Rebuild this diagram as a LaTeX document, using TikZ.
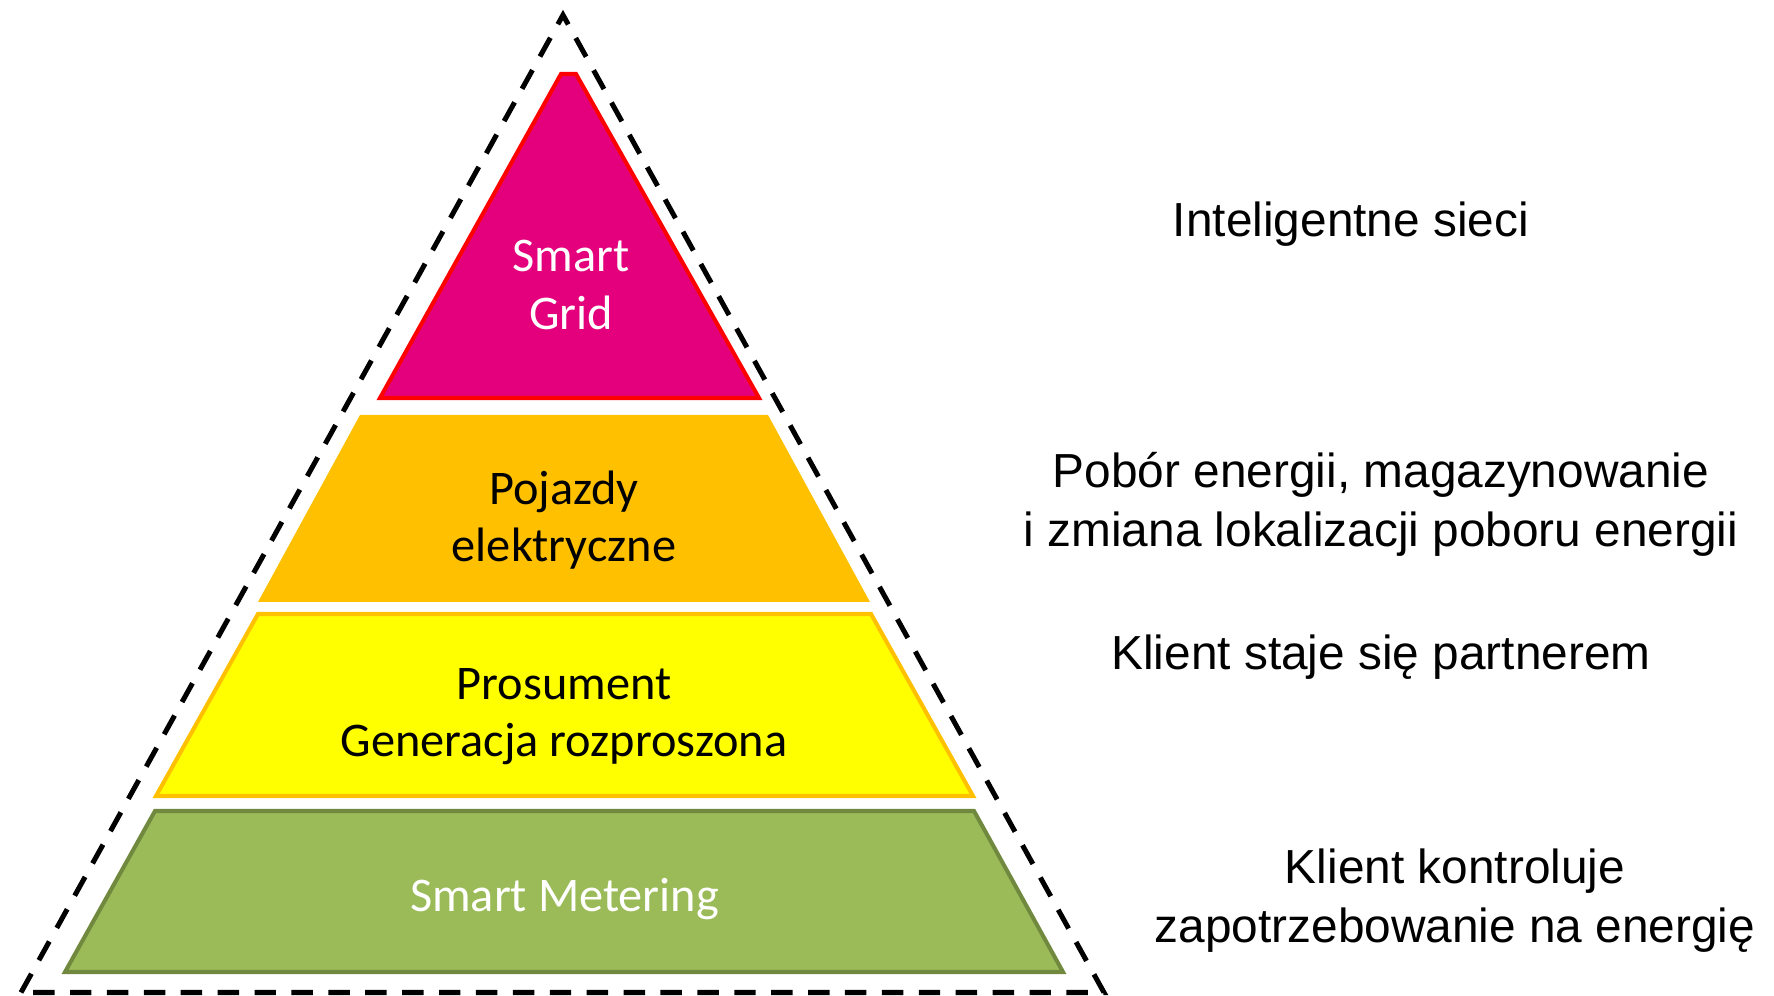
\documentclass[tikz,border=0pt]{standalone}
\usepackage{fontspec}
\setmainfont{Liberation Sans}
\newfontfamily\calibri{Carlito}
\definecolor{gridpink}{HTML}{E4007C}
\definecolor{evorange}{HTML}{FFC000}
\definecolor{prosyellow}{HTML}{FFFF00}
\definecolor{metergreen}{HTML}{9BBB59}
\definecolor{meterdark}{HTML}{71893F}

\begin{document}
\begin{tikzpicture}[scale=1,
    layer/.style={line width=2.3pt, line join=miter},
    inlabel/.style={font=\calibri\fontsize{27.5}{33}\selectfont, align=center, anchor=base, inner sep=0pt},
    sidelabel/.style={font=\fontsize{27.2}{33.6}\selectfont, align=center, anchor=base, inner sep=0pt}]

     \useasboundingbox (0,0) rectangle (35.48,19.92); % the page

     % dashed outline round the whole pyramid
     \draw[line width=2.85pt, dash pattern=on 12.2pt off 8.8pt] (0.42,0.07) -- (11.26,19.62) -- (22.08,0.07) -- cycle;

     % the four levels, top to bottom
     \draw[layer, draw=red, fill=gridpink] (7.60,11.96) -- (11.22,18.44) -- (11.52,18.44) -- (15.18,11.96) -- cycle; % Smart Grid
     \fill[evorange] (5.16,7.88) -- (7.20,11.62) -- (15.36,11.62) -- (17.40,7.88) -- cycle; % vehicles
     \draw[layer, draw=evorange, fill=prosyellow] (3.12,4.00) -- (5.16,7.64) -- (17.42,7.64) -- (19.46,4.00) -- cycle; % prosumer
     \draw[layer, draw=meterdark, fill=metergreen] (1.30,0.48) -- (3.10,3.70) -- (19.48,3.70) -- (21.26,0.48) -- cycle; % metering

     % labels inside the levels (base = last line)
     \node[inlabel, text=white] (grid)      at (11.42,13.32) {Smart\\Grid};
     \node[inlabel]             (ev)        at (11.28,8.68)  {Pojazdy\\elektryczne};
     \node[inlabel]             (prosument) at (11.28,4.78)  {Prosument\\Generacja rozproszona};
     \node[inlabel, text=white] (metering)  at (11.29,1.68)  {Smart Metering};

     % descriptions on the right
     \node[sidelabel] (gridtxt)  at (27.02,15.18) {Inteligentne sieci};
     \node[sidelabel] (evtxt)    at (27.62,8.98)  {Pobór energii, magazynowanie\\i zmiana lokalizacji poboru energii};
     \node[sidelabel] (prostxt)  at (27.62,6.52)  {Klient staje się partnerem};
     \node[sidelabel] (metertxt) at (29.10,1.06)  {Klient kontroluje\\zapotrzebowanie na energię};
  \end{tikzpicture}
\end{document}
